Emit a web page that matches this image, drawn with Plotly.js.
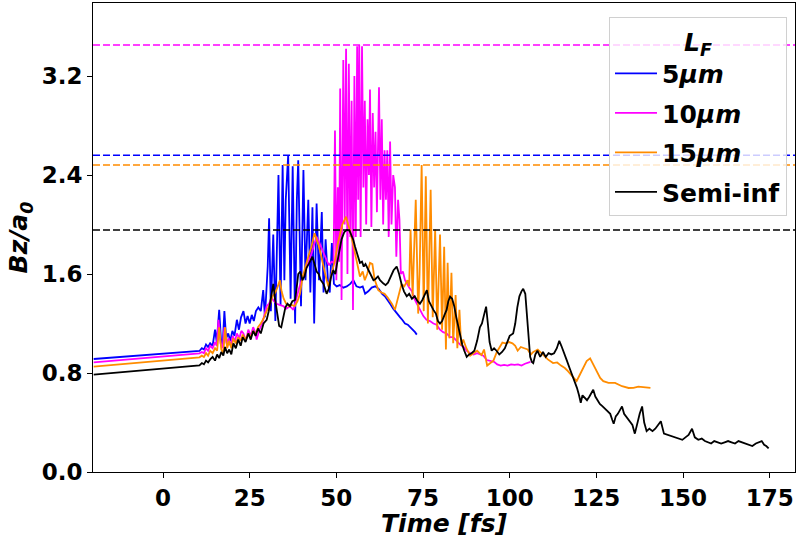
<!DOCTYPE html>
<html>
<head>
<meta charset="utf-8">
<script src="https://cdn.plot.ly/plotly-3.0.1.min.js"></script>
<style>html,body{margin:0;padding:0;background:#fff;}#chart{width:796px;height:538px;}</style>
</head>
<body>
<div id="chart"></div>
<script>
// Series names
var seriesNames = ["<b>5<i>μm</i></b>", "<b>10<i>μm</i></b>", "<b>15<i>μm</i></b>", "<b>Semi-inf</b>"];
var seriesColors = ["#0000ff", "#ff00ff", "#ff8c00", "#000000"];

// 5 um
var t5 = [-20,10.5,11.2,11.8,12.4,13.0,13.6,14.3,15.0,15.5,16.2,16.7,17.2,17.7,18.2,18.8,19.4,20.0,20.6,21.3,21.9,22.5,23.2,23.8,24.4,25.0,25.6,26.2,26.8,27.5,28.2,28.9,29.4,30.2,30.6,31.1,31.8,32.4,33.3,33.9,34.5,35.0,35.4,36.1,36.8,37.4,38.1,38.6,39.0,39.8,40.5,41.1,41.9,42.5,43.1,43.6,44.3,45.0,45.8,46.3,46.9,47.6,48.1,48.7,49.3,50.1,51.0,52.0,53.0,54.0,54.9,55.8,56.8,57.6,58.3,59.2,60.2,61.2,62.2,63.2,64.0,64.8,65.5,66.4,67.4,68.4,69.0,69.8,70.6,71.4,72.2,72.7,73.2];
var v5 = [0.913,0.978,1.0,0.99,1.03,1.01,1.04,1.02,1.15,1.05,1.31,1.08,1.02,1.3,1.08,1.12,1.06,1.14,1.10,1.23,1.15,1.25,1.3,1.2,1.26,1.2,1.27,1.22,1.3,1.33,1.3,1.47,1.25,1.66,2.05,1.3,1.92,1.22,2.4,1.35,2.48,1.55,2.2,2.56,1.4,2.47,1.2,2.2,2.52,1.34,2.44,1.55,2.2,1.45,2.14,1.2,2.17,1.55,2.1,1.45,1.88,1.53,1.45,1.85,1.52,1.50,1.51,1.49,1.50,1.52,1.55,1.50,1.49,1.50,1.44,1.46,1.49,1.50,1.48,1.44,1.42,1.39,1.36,1.32,1.28,1.25,1.23,1.20,1.19,1.17,1.15,1.13,1.11];

// 10 um
var t10 = [-20,10.5,11.2,11.8,12.4,13.0,13.6,14.3,15.0,15.5,16.0,16.6,17.2,17.7,18.3,18.9,19.5,20.1,20.7,21.3,22.0,22.6,23.2,23.9,24.6,25.3,26.0,26.6,27.0,27.8,28.6,29.3,29.9,30.6,31.3,32.0,32.8,33.6,34.7,35.6,36.6,37.6,38.4,39.2,40.0,40.8,41.6,42.3,42.9,43.6,44.3,45.0,45.8,46.5,47.2,47.9,48.6,49.2,49.6,50.0,50.4,50.8,51.1,51.5,52.0,52.4,52.8,53.2,53.6,54.0,54.4,54.8,55.2,55.6,56.0,56.3,56.6,57.0,57.4,57.8,58.2,58.6,59.0,59.4,59.7,60.1,60.5,60.9,61.3,61.7,62.3,62.7,63.1,63.5,63.9,64.3,64.7,65.1,65.5,65.9,66.4,66.9,67.3,67.8,68.2,68.6,69.2,69.8,70.3,71.0,71.8,72.5,73.2,74.1,75.1,76.0,77.0,78.0,78.9,79.9,80.8,81.8,82.8,83.7,84.7,85.7,86.7,87.6,88.6,89.6,90.6,91.5,92.4,93.4,94.5,95.5,96.4,97.4,98.4,99.4,100.4,101.4,102.4,103.4,104.4,105.3,106.0];
var v10 = [0.886,0.959,0.97,0.96,1.0,0.98,1.02,1.0,1.05,1.02,1.23,1.04,1.0,1.17,1.04,1.08,1.02,1.1,1.05,1.12,1.08,1.14,1.12,1.06,1.15,1.10,1.17,1.13,1.07,1.15,1.2,1.28,1.34,1.36,1.41,1.38,1.36,1.35,1.34,1.32,1.34,1.31,1.40,1.48,1.55,1.6,1.67,1.72,1.77,1.84,1.9,1.86,1.80,1.75,1.71,1.67,1.70,1.69,2.76,1.55,2.3,1.7,3.1,1.39,3.33,2.0,3.42,1.6,3.3,1.9,3.0,1.31,3.2,1.9,3.44,2.2,3.45,1.9,3.44,2.3,3.0,2.0,2.85,2.4,3.09,1.98,2.9,2.3,2.75,2.1,3.11,2.2,2.85,2.0,2.6,2.2,2.6,1.9,2.67,2.0,2.4,2.3,1.74,2.2,2.04,1.6,1.62,1.55,1.52,1.49,1.46,1.40,1.36,1.31,1.26,1.23,1.22,1.20,1.19,1.15,1.13,1.12,1.09,1.09,1.06,1.03,1.01,0.98,0.96,0.95,0.96,0.95,0.94,0.905,0.90,0.89,0.87,0.86,0.865,0.86,0.87,0.865,0.87,0.86,0.875,0.88,0.89];

// 15 um
var t15 = [-20,10.5,11.2,11.8,12.4,13.0,13.6,14.3,15.0,15.6,16.2,16.8,17.4,17.9,18.5,19.1,19.7,20.3,21.0,21.7,22.4,23.0,23.8,24.6,25.3,26.0,26.7,27.4,28.2,29.0,29.9,30.9,31.6,32.4,33.1,33.7,34.2,34.8,35.5,36.3,37.1,38.0,38.8,39.5,40.3,41.1,42.0,42.8,43.7,44.3,44.9,45.5,46.1,46.7,47.2,47.7,48.3,48.9,49.6,50.3,51.0,51.7,52.4,52.8,53.4,53.9,54.5,55.2,55.9,56.8,57.6,58.2,58.9,59.7,60.4,61.0,61.6,62.1,63.0,63.9,64.8,65.5,66.0,66.9,67.5,68.1,68.8,69.6,70.5,71.0,71.4,72.0,72.9,73.6,74.0,74.6,75.2,75.8,76.4,77.2,77.8,78.5,79.1,79.9,80.5,81.1,81.6,82.1,82.6,83.2,83.7,84.4,84.9,85.5,86.0,86.6,87.5,88.6,89.5,90.6,91.9,92.6,93.5,94.3,95.3,96.3,97.2,97.9,98.8,99.8,100.8,101.6,102.3,103.2,104.2,105.2,106.1,106.8,108.1,109.2,110.2,111.0,112.5,113.7,114.8,115.9,116.8,117.6,118.3,119.3,120.3,121.2,122.2,123.2,124.1,125.1,126.1,127.0,128.5,130.4,132.4,134.3,135.7,137.1,138.7,140.6];
var v15 = [0.851,0.927,0.94,0.93,0.96,0.94,0.98,0.96,1.0,0.98,1.17,0.99,0.96,1.17,1.0,1.06,1.0,1.08,1.04,1.09,1.06,1.11,1.07,1.12,1.09,1.14,1.11,1.17,1.2,1.24,1.3,1.36,1.42,1.45,1.5,1.55,1.46,1.40,1.36,1.34,1.35,1.34,1.38,1.44,1.58,1.67,1.75,1.82,1.93,1.88,1.83,1.76,1.68,1.62,1.55,1.50,1.56,1.62,1.71,1.83,1.92,2.0,2.04,2.063,2.0,1.956,1.88,1.80,1.70,1.58,1.62,1.55,1.60,1.69,1.68,1.56,1.50,1.47,1.45,1.44,1.41,1.38,1.36,1.31,1.38,1.45,1.52,1.50,1.55,1.50,1.96,1.42,2.2,1.28,1.6,2.48,1.3,2.39,1.2,2.28,1.25,1.96,1.15,1.92,1.15,1.82,0.99,1.69,1.08,1.61,1.04,1.43,1.0,1.31,1.02,1.07,1.0,0.94,0.96,0.98,0.945,0.99,0.86,0.88,0.9,0.97,1.01,1.046,1.04,1.05,1.04,1.02,0.98,1.01,1.0,0.99,0.95,0.97,0.99,0.96,0.94,0.91,0.88,0.885,0.86,0.84,0.815,0.79,0.76,0.734,0.79,0.843,0.897,0.919,0.87,0.815,0.76,0.734,0.72,0.72,0.693,0.679,0.68,0.69,0.684,0.679];

// Semi-infinite
var tSemi = [-20,10.5,11.2,11.8,12.4,13.0,13.6,14.3,15.0,15.6,16.2,16.8,17.4,17.9,18.5,19.1,19.7,20.3,21.0,21.7,22.4,23.0,23.8,24.6,25.3,26.0,26.7,27.4,28.2,29.0,29.9,30.5,31.2,31.8,32.3,32.9,33.5,34.1,34.7,35.3,35.9,36.6,37.3,38.1,38.6,39.0,39.6,40.2,40.8,41.4,42.0,42.6,43.1,43.7,44.3,44.9,45.5,46.3,47.2,47.8,48.5,49.1,49.7,50.3,50.8,51.5,52.3,53.0,53.8,54.4,54.9,55.4,55.9,56.4,56.8,57.4,57.9,58.4,58.8,59.4,60.0,60.7,61.3,62.0,62.6,63.5,64.2,64.9,65.6,66.5,67.4,68.1,68.8,69.5,70.3,71.0,71.8,72.6,73.4,74.1,74.8,75.5,76.1,76.7,77.4,78.0,78.7,79.3,79.9,80.5,81.2,81.8,82.3,82.8,83.4,84.0,84.6,85.2,85.7,86.3,86.9,87.6,88.3,89.0,89.8,90.6,91.4,92.0,92.6,93.2,93.7,94.2,94.8,95.5,96.2,97.0,97.8,98.6,99.3,100.0,101.0,101.6,102.2,102.8,103.4,103.9,104.5,105.0,105.5,105.9,106.4,106.8,107.4,108.0,108.8,109.6,110.4,111.2,112.0,112.8,113.6,114.3,114.9,115.6,116.5,117.4,118.1,118.8,119.4,120.0,120.5,121.0,121.6,122.3,123.0,123.6,124.1,124.7,125.3,126.0,126.8,127.5,128.3,129.0,129.6,130.0,130.6,131.2,131.8,132.4,133.0,133.8,134.5,135.4,136.1,136.8,137.5,138.2,138.8,139.5,140.3,141.2,142.0,142.8,143.6,144.5,145.5,146.5,147.5,148.9,149.8,150.7,151.6,152.6,153.4,154.4,155.4,156.3,157.2,158.1,159.0,160.0,161.0,162.0,163.0,164.0,165.0,166.0,167.0,168.0,169.0,170.0,171.0,172.0,172.7,173.4,174.0,174.7];
var vSemi = [0.787,0.862,0.88,0.87,0.9,0.885,0.91,0.93,0.9,0.95,0.92,0.97,0.94,1.01,0.96,0.99,0.95,1.04,1.0,1.07,1.02,1.09,1.05,1.12,1.07,1.14,1.10,1.16,1.12,1.2,1.23,1.30,1.42,1.52,1.40,1.28,1.18,1.17,1.25,1.33,1.36,1.34,1.38,1.39,1.5,1.6,1.62,1.55,1.58,1.65,1.68,1.72,1.74,1.68,1.62,1.60,1.55,1.52,1.44,1.48,1.58,1.63,1.6,1.70,1.79,1.88,1.94,1.956,1.95,1.91,1.875,1.82,1.77,1.72,1.69,1.70,1.66,1.68,1.66,1.62,1.59,1.55,1.56,1.58,1.55,1.525,1.51,1.53,1.57,1.63,1.66,1.60,1.52,1.46,1.42,1.44,1.40,1.42,1.38,1.36,1.39,1.44,1.47,1.38,1.34,1.31,1.28,1.22,1.20,1.22,1.27,1.31,1.38,1.417,1.40,1.34,1.25,1.17,1.09,1.03,0.98,0.93,0.95,0.96,0.98,1.06,1.17,1.20,1.27,1.336,1.20,1.05,0.98,1.0,0.98,0.95,0.97,1.0,1.05,1.1,1.12,1.2,1.33,1.42,1.46,1.48,1.44,1.25,1.05,0.93,0.89,0.88,0.95,0.98,0.93,0.97,0.93,0.96,0.95,0.96,1.0,1.06,1.02,0.96,0.90,0.83,0.78,0.73,0.68,0.62,0.56,0.62,0.60,0.58,0.61,0.64,0.665,0.61,0.58,0.55,0.53,0.51,0.49,0.47,0.42,0.39,0.45,0.47,0.50,0.53,0.47,0.44,0.42,0.38,0.31,0.40,0.47,0.53,0.40,0.33,0.35,0.33,0.35,0.38,0.41,0.31,0.30,0.29,0.28,0.27,0.26,0.28,0.30,0.35,0.28,0.26,0.27,0.25,0.24,0.23,0.25,0.24,0.23,0.24,0.25,0.24,0.23,0.25,0.24,0.23,0.22,0.21,0.23,0.24,0.25,0.22,0.21,0.19];

var xTicks = [0, 25, 50, 75, 100, 125, 150, 175];
var yTicks = [0.0, 0.8, 1.6, 2.4, 3.2];

var allT = [t5, t10, t15, tSemi];
var allV = [v5, v10, v15, vSemi];

var traces = [];
var shapes = [];
for (var i = 0; i < 4; i++) {
  traces.push({
    x: allT[i], y: allV[i], type: 'scatter', mode: 'lines',
    name: seriesNames[i], legendgroup: 'g' + i,
    line: {color: seriesColors[i], width: 1.8}
  });
  var m = Math.max.apply(null, allV[i]);
  shapes.push({
    type: 'line', xref: 'paper', x0: 0, x1: 1, yref: 'y', y0: m, y1: m,
    line: {color: seriesColors[i], width: 1.5, dash: '7px,3px'}, layer: 'above'
  });
}

var layout = {
  width: 796, height: 538,
  margin: {l: 93, r: 1, t: 3, b: 66, pad: 0},
  paper_bgcolor: '#fff', plot_bgcolor: '#fff',
  font: {family: 'DejaVu Sans, sans-serif', size: 22, color: '#000', weight: 'bold'},
  showlegend: true,
  legend: {
    x: 0.9886, xanchor: 'right', y: 0.97, yanchor: 'top',
    bgcolor: 'rgba(255,255,255,0.8)', bordercolor: '#d0d0d0', borderwidth: 1,
    font: {family: 'DejaVu Sans, sans-serif', size: 25, color: '#000', weight: 'bold'},
    title: {text: '<i>L</i><sub><i>F</i></sub>', side: 'top center',
            font: {family: 'DejaVu Sans, sans-serif', size: 25, color: '#000', weight: 'bold'}},
    tracegroupgap: 4, itemwidth: 42
  },
  xaxis: {
    range: [-20.2, 182.3], tickvals: xTicks, ticktext: xTicks.map(String),
    ticks: 'outside', ticklen: 5, tickwidth: 1, tickcolor: '#000',
    showline: true, mirror: true, linecolor: '#000', linewidth: 1,
    showgrid: false, zeroline: false,
    tickfont: {family: 'DejaVu Sans, sans-serif', size: 23, color: '#000', weight: 'bold'},
    title: {text: '<i>Time [fs]</i>', standoff: 3,
            font: {family: 'DejaVu Sans, sans-serif', size: 25, color: '#000', weight: 'bold'}}
  },
  yaxis: {
    range: [0, 3.79], tickvals: yTicks, ticktext: yTicks.map(function (v) { return v.toFixed(1); }),
    ticks: 'outside', ticklen: 5, tickwidth: 1, tickcolor: '#000',
    showline: true, mirror: true, linecolor: '#000', linewidth: 1,
    showgrid: false, zeroline: false,
    tickfont: {family: 'DejaVu Sans, sans-serif', size: 23, color: '#000', weight: 'bold'},
    title: {text: '<i>Bz/a</i><sub><i>0</i></sub>', standoff: 6,
            font: {family: 'DejaVu Sans, sans-serif', size: 25, color: '#000', weight: 'bold'}}
  },
  shapes: shapes
};

Plotly.newPlot('chart', traces, layout, {displayModeBar: false, staticPlot: true});
</script>
</body>
</html>
